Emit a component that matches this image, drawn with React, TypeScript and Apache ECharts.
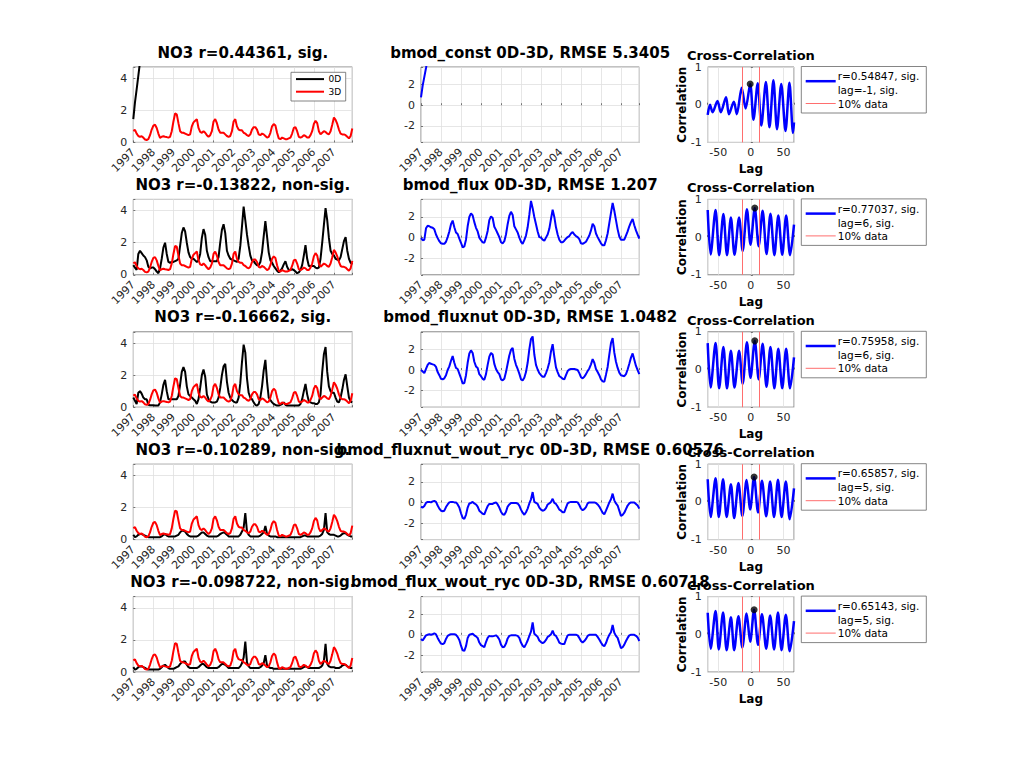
import React, { useEffect, useRef } from "react";
import * as echarts from "echarts";

// ---------- data ----------
const START_YEAR = 1997;
const N_MONTHS = 132;

// 3D model NO3 (red, identical in every row)
const NO3_3D = [
  0.72, 0.78, 0.55, 0.4, 0.35, 0.38, 0.3, 0.18, 0.15, 0.2, 0.45, 0.8,
  1.05, 1.1, 0.9, 0.55, 0.28, 0.35, 0.38, 0.35, 0.33, 0.3, 0.35, 0.7,
  1.3, 1.8, 1.75, 1.2, 0.7, 0.6, 0.6, 0.55, 0.5, 0.45, 0.5, 1.0,
  1.25, 1.35, 1.45, 0.9, 0.65, 0.6, 0.7, 0.6, 0.45, 0.35, 0.45, 0.7,
  1.3, 1.45, 1.2, 0.8, 0.6, 0.6, 0.6, 0.5, 0.4, 0.35, 0.4, 0.7,
  1.3, 1.45, 1.0, 0.8, 0.75, 0.75, 0.6, 0.55, 0.45, 0.4, 0.5, 0.8,
  0.95, 0.95, 0.8, 0.5, 0.45, 0.55, 0.5, 0.4, 0.3, 0.35, 0.6, 1.0,
  1.15, 1.05, 0.6, 0.25, 0.2, 0.3, 0.25, 0.2, 0.2, 0.25, 0.3, 0.55,
  0.9, 0.95, 0.7, 0.35, 0.3, 0.35, 0.45, 0.4, 0.3, 0.3, 0.45, 0.7,
  1.15, 1.35, 1.2, 0.7, 0.5, 0.6, 0.7, 0.65, 0.55, 0.5, 0.7, 1.1,
  1.55, 1.4, 1.15, 0.8, 0.55, 0.5, 0.5, 0.45, 0.35, 0.25, 0.4, 0.87,
];

// 0D model NO3 (black) per run
const NO3_0D_CONST = [1.45, 2.5, 3.3, 4.15, 5.0, 5.9];
const NO3_0D_FLUX = [
  0.6, 0.45, 0.3, 1.3, 1.5, 1.35, 1.2, 1.1, 0.9, 0.5, 0.4, 0.45,
  0.45, 0.35, 0.2, 0.1, 0.4, 1.0, 1.7, 2.0, 1.3, 0.8, 0.75, 0.8,
  0.8, 0.85, 0.9, 1.0, 1.8, 2.6, 2.95, 2.7, 2.0, 1.4, 1.1, 1.0,
  1.0, 0.9, 0.8, 0.9, 1.3, 2.3, 2.85, 2.5, 1.5, 1.1, 0.85, 0.85,
  0.85, 0.85, 0.85, 1.1, 2.0, 2.8, 3.15, 2.6, 1.5, 1.2, 1.0, 0.95,
  0.9, 0.85, 0.8, 1.0, 1.8, 3.0, 4.25, 3.4, 2.5, 1.8, 1.2, 0.9,
  0.85, 0.7, 0.6, 0.6, 0.8, 1.4, 2.4, 3.35, 2.4, 1.4, 0.9, 0.75,
  0.55, 0.4, 0.25, 0.15, 0.25, 0.4, 0.65, 0.85, 0.5, 0.3, 0.3, 0.35,
  0.3, 0.2, 0.1, 0.15, 0.3, 0.6, 1.2, 1.85, 1.0, 0.55, 0.55, 0.55,
  0.55, 0.45, 0.4, 0.45, 1.0, 2.0, 3.1, 4.15, 3.4, 2.3, 1.5, 1.3,
  1.2, 1.0, 0.95, 0.9, 1.1, 1.6, 2.1, 2.35, 1.5, 1.0, 0.75, 0.65,
];
const NO3_0D_FLUXNUT = [
  0.6, 0.4, 0.2, 0.9, 1.0, 0.85, 0.6, 0.5, 0.5, 0.15, 0.12, 0.12,
  0.12, 0.1, 0.1, 0.1, 0.3, 0.8, 1.4, 1.7, 1.0, 0.5, 0.5, 0.5,
  0.5, 0.5, 0.5, 0.7, 1.4, 2.2, 2.5, 2.2, 1.3, 0.8, 0.7, 0.6,
  0.5, 0.4, 0.2, 0.5, 1.2, 2.0, 2.35, 1.9, 0.8, 0.5, 0.35, 0.3,
  0.3, 0.3, 0.35, 0.6, 1.2, 2.0, 2.55, 2.7, 1.6, 0.9, 0.6, 0.45,
  0.35, 0.3, 0.3, 0.6, 1.5, 2.8, 3.9, 3.4, 1.8, 0.9, 0.6, 0.5,
  0.3, 0.15, 0.1, 0.2, 0.6, 1.3, 2.3, 2.95, 1.6, 0.6, 0.45, 0.3,
  0.2, 0.15, 0.1, 0.1, 0.15, 0.2, 0.3, 0.15, 0.1, 0.1, 0.1, 0.1,
  0.1, 0.1, 0.1, 0.1, 0.2, 0.5, 1.0, 1.45, 0.8, 0.35, 0.3, 0.25,
  0.25, 0.2, 0.2, 0.3, 0.8, 2.2, 3.3, 3.75, 2.2, 1.3, 1.0, 0.9,
  0.9, 0.6, 0.35, 0.3, 0.6, 1.1, 1.7, 2.05, 1.3, 0.6, 0.35, 0.3,
];
const NO3_0D_FLUXNUT_WOUT = [
  0.3, 0.15, 0.2, 0.3, 0.35, 0.35, 0.3, 0.25, 0.2, 0.15, 0.15, 0.15,
  0.15, 0.15, 0.15, 0.15, 0.15, 0.2, 0.3, 0.35, 0.25, 0.2, 0.2, 0.2,
  0.2, 0.2, 0.25, 0.3, 0.45, 0.55, 0.55, 0.5, 0.35, 0.25, 0.2, 0.2,
  0.2, 0.2, 0.2, 0.25, 0.35, 0.45, 0.45, 0.35, 0.25, 0.2, 0.2, 0.2,
  0.2, 0.2, 0.2, 0.25, 0.35, 0.4, 0.45, 0.4, 0.3, 0.2, 0.2, 0.2,
  0.2, 0.2, 0.2, 0.2, 0.3, 0.5, 0.75, 1.65, 0.5, 0.3, 0.2, 0.2,
  0.2, 0.2, 0.2, 0.2, 0.25, 0.35, 0.45, 0.85, 0.35, 0.25, 0.2, 0.2,
  0.2, 0.2, 0.15, 0.15, 0.15, 0.15, 0.15, 0.15, 0.15, 0.15, 0.15, 0.15,
  0.15, 0.15, 0.15, 0.15, 0.15, 0.2, 0.25, 0.25, 0.2, 0.2, 0.2, 0.2,
  0.2, 0.2, 0.2, 0.2, 0.25, 0.35, 0.6, 1.65, 0.45, 0.35, 0.3, 0.3,
  0.3, 0.25, 0.2, 0.2, 0.25, 0.35, 0.4, 0.4, 0.3, 0.25, 0.2, 0.2,
];
const NO3_0D_FLUX_WOUT = [
  0.3, 0.15, 0.2, 0.3, 0.35, 0.35, 0.3, 0.25, 0.2, 0.15, 0.15, 0.15,
  0.15, 0.15, 0.15, 0.15, 0.2, 0.3, 0.4, 0.45, 0.35, 0.25, 0.2, 0.2,
  0.2, 0.25, 0.3, 0.35, 0.5, 0.6, 0.65, 0.65, 0.45, 0.3, 0.25, 0.25,
  0.25, 0.25, 0.25, 0.3, 0.4, 0.5, 0.5, 0.4, 0.3, 0.25, 0.25, 0.25,
  0.25, 0.25, 0.25, 0.3, 0.4, 0.5, 0.5, 0.45, 0.35, 0.25, 0.25, 0.25,
  0.25, 0.25, 0.25, 0.25, 0.35, 0.55, 0.9, 1.9, 0.6, 0.35, 0.25, 0.25,
  0.25, 0.25, 0.25, 0.25, 0.3, 0.4, 0.55, 1.05, 0.4, 0.3, 0.25, 0.25,
  0.2, 0.2, 0.2, 0.2, 0.2, 0.2, 0.2, 0.2, 0.2, 0.2, 0.2, 0.2,
  0.2, 0.2, 0.2, 0.2, 0.2, 0.25, 0.3, 0.35, 0.3, 0.25, 0.25, 0.25,
  0.25, 0.25, 0.25, 0.25, 0.3, 0.4, 0.7, 1.75, 0.5, 0.35, 0.3, 0.3,
  0.3, 0.25, 0.25, 0.25, 0.3, 0.4, 0.45, 0.45, 0.35, 0.3, 0.25, 0.25,
];

// 0D-3D differences (blue, middle column)
const DIFF_CONST = [0.75, 1.9, 2.75, 3.6, 4.5, 5.4];
const DIFF_FLUX = [
  -0.05, -0.25, -0.2, 0.9, 1.15, 1.1, 1.0, 0.95, 0.8, 0.3, -0.05, -0.35,
  -0.55, -0.6, -0.6, -0.4, 0.05, 0.6, 1.3, 1.65, 1.0, 0.5, 0.35, -0.1,
  -0.5, -0.95, -0.85, -0.2, 1.1, 2.0, 2.35, 2.15, 1.5, 0.95, 0.6, 0.0,
  -0.25, -0.45, -0.5, 0.0, 0.65, 1.7, 2.05, 1.9, 1.05, 0.75, 0.4, 0.05,
  -0.45, -0.55, -0.35, 0.3, 1.3, 2.1, 2.5, 2.2, 1.1, 0.8, 0.5, 0.0,
  -0.4, -0.6, -0.25, 0.2, 1.0, 2.2, 3.55, 2.85, 2.0, 1.3, 0.6, 0.05,
  0.0, -0.2, -0.3, 0.0, 0.3, 0.85, 1.8, 2.7, 2.0, 1.0, 0.3, -0.2,
  -0.45, -0.45, -0.3, -0.1, 0.05, 0.15, 0.4, 0.55, 0.3, 0.15, 0.05, -0.15,
  -0.55, -0.6, -0.5, -0.4, -0.1, 0.2, 0.7, 1.35, 1.1, 0.4, 0.05, -0.25,
  -0.55, -0.75, -0.75, -0.25, 0.4, 1.4, 2.4, 3.35, 2.6, 1.7, 0.8, 0.1,
  -0.2, -0.2, -0.2, 0.2, 0.6, 1.1, 1.5, 1.8, 1.2, 0.7, 0.3, -0.1,
];
const DIFF_FLUXNUT = [
  0.0, -0.15, -0.3, 0.1, 0.5, 0.7, 0.6, 0.55, 0.5, 0.3, -0.2, -0.5,
  -0.85, -0.9, -0.8, -0.5, 0.0, 0.35, 0.9, 1.35, 0.7, 0.2, 0.1, -0.35,
  -0.8, -1.3, -1.25, -0.5, 0.7, 1.6, 1.9, 1.65, 0.8, 0.35, 0.2, -0.4,
  -0.6, -0.85, -0.95, -0.4, 0.5, 1.3, 1.65, 1.5, 0.6, 0.1, -0.2, -0.4,
  -0.9, -1.0, -0.85, -0.2, 0.6, 1.4, 1.95, 2.15, 1.1, 0.5, 0.1, -0.35,
  -0.9, -1.0, -0.75, -0.2, 0.7, 2.0, 3.0, 3.25, 1.5, 0.5, 0.05, -0.3,
  -0.5, -0.65, -0.65, -0.3, 0.15, 0.75, 1.8, 2.5, 1.3, 0.25, -0.2, -0.6,
  -0.7, -0.85, -0.9, -0.5, -0.1, 0.05, 0.1, 0.1, 0.1, 0.05, 0.0, -0.3,
  -0.7, -0.8, -0.65, -0.4, -0.1, 0.15, 0.55, 1.05, 0.7, 0.1, -0.2, -0.5,
  -0.9, -1.1, -1.15, -0.45, 0.3, 1.5, 2.6, 3.1, 1.7, 0.8, 0.2, -0.25,
  -0.5, -0.55, -0.6, -0.4, 0.05, 0.6, 1.2, 1.6, 1.0, 0.4, 0.0, -0.4,
];
const DIFF_FLUXNUT_WOUT = [
  -0.4, -0.5, -0.35, -0.05, 0.05, 0.05, 0.0, 0.1, 0.15, 0.05, -0.3, -0.6,
  -0.8, -0.85, -0.8, -0.45, -0.2, 0.0, 0.05, 0.05, 0.0, 0.0, -0.2, -0.5,
  -1.05, -1.5, -1.6, -1.2, -0.5, -0.1, -0.05, 0.05, -0.1, -0.2, -0.4, -0.8,
  -0.95, -1.1, -1.15, -0.75, -0.35, -0.15, -0.15, -0.15, -0.05, 0.0, -0.2, -0.5,
  -0.9, -1.15, -1.2, -0.9, -0.4, -0.2, -0.05, -0.05, -0.05, -0.05, -0.1, -0.3,
  -0.7, -1.0, -1.2, -0.95, -0.6, -0.1, 0.3, 1.0, 0.05, -0.05, -0.15, -0.5,
  -0.7, -0.8, -0.75, -0.55, -0.2, -0.1, 0.05, 0.35, -0.05, -0.15, -0.4, -0.7,
  -0.8, -0.95, -0.95, -0.5, -0.1, 0.0, 0.05, 0.05, 0.05, 0.05, 0.0, -0.25,
  -0.6, -0.75, -0.65, -0.45, -0.1, 0.0, 0.0, 0.0, 0.0, -0.05, -0.2, -0.4,
  -0.7, -1.0, -1.15, -0.8, -0.4, 0.0, 0.3, 0.85, 0.2, -0.1, -0.3, -0.8,
  -1.3, -1.2, -1.0, -0.65, -0.3, -0.1, 0.0, 0.0, 0.0, -0.15, -0.3, -0.6,
];
const DIFF_FLUX_WOUT = [
  -0.4, -0.55, -0.3, -0.05, 0.0, 0.05, 0.0, 0.05, 0.15, 0.05, -0.3, -0.6,
  -0.85, -0.9, -0.8, -0.4, -0.1, 0.0, 0.05, 0.05, 0.05, 0.0, -0.2, -0.5,
  -1.05, -1.5, -1.55, -1.1, -0.3, 0.0, 0.05, 0.1, -0.05, -0.15, -0.3, -0.75,
  -1.0, -1.1, -1.2, -0.7, -0.3, -0.1, -0.15, -0.15, -0.1, -0.05, -0.2, -0.45,
  -0.95, -1.2, -1.15, -0.85, -0.35, -0.1, -0.05, -0.05, -0.05, -0.05, -0.1, -0.3,
  -0.75, -1.05, -1.2, -0.9, -0.55, -0.1, 0.3, 1.2, 0.1, -0.05, -0.2, -0.55,
  -0.7, -0.8, -0.7, -0.5, -0.2, -0.1, 0.05, 0.4, 0.0, -0.1, -0.4, -0.75,
  -0.85, -0.9, -0.9, -0.45, -0.05, 0.0, 0.0, 0.0, 0.0, 0.0, -0.05, -0.3,
  -0.6, -0.75, -0.6, -0.4, -0.1, 0.0, 0.0, 0.0, 0.0, 0.0, -0.2, -0.45,
  -0.75, -1.0, -1.1, -0.8, -0.35, 0.0, 0.25, 0.95, 0.2, -0.1, -0.3, -0.8,
  -1.3, -1.2, -0.95, -0.6, -0.3, -0.05, 0.0, 0.0, 0.0, -0.1, -0.25, -0.6,
];

// cross-correlation curves: [lag, r] at the turning points
const XCORR_CONST = [
  [-66, -0.27], [-62.5, 0.0], [-58.5, -0.2], [-51, 0.1], [-46, -0.2], [-38, 0.2],
  [-33.5, -0.25], [-26, 0.08], [-21.5, -0.25], [-14, 0.45], [-8, -0.1], [-1, 0.55],
  [4, -0.4], [10.5, 0.57], [16, -0.55], [23, 0.6], [28.5, -0.6], [34.5, 0.65],
  [40, -0.65], [46.5, 0.55], [53, -0.7], [59, 0.58], [64.5, -0.75], [66, -0.47],
];
const XCORR_FLUX = [
  [-66, 0.72], [-61.5, -0.46], [-54, 0.72], [-48.5, -0.48], [-42, 0.61], [-36.5, -0.48],
  [-30.5, 0.52], [-25, -0.47], [-18, 0.52], [-12.5, -0.37], [-6, 0.74], [-0.5, -0.2],
  [6, 0.77], [12, -0.24], [18, 0.7], [24, -0.45], [30, 0.62], [36, -0.48],
  [42, 0.57], [48, -0.47], [54, 0.57], [60, -0.48], [66, 0.33],
];
const XCORR_FLUXNUT = [
  [-66, 0.7], [-61.5, -0.48], [-54, 0.7], [-48.5, -0.5], [-42, 0.6], [-36.5, -0.5],
  [-30.5, 0.5], [-25, -0.48], [-18, 0.5], [-12.5, -0.38], [-6, 0.72], [-0.5, -0.22],
  [6, 0.76], [12, -0.26], [18, 0.68], [24, -0.46], [30, 0.6], [36, -0.5],
  [42, 0.55], [48, -0.5], [54, 0.55], [60, -0.5], [66, 0.32],
];
const XCORR_FLUXNUT_WOUT = [
  [-66, 0.6], [-61.5, -0.4], [-54, 0.63], [-49, -0.4], [-42.5, 0.6], [-37, -0.4],
  [-30.5, 0.47], [-25.5, -0.43], [-19, 0.5], [-13, -0.37], [-6.5, 0.58], [-1, -0.2],
  [5, 0.66], [11, -0.28], [17, 0.56], [23.5, -0.38], [29.5, 0.54], [35.5, -0.4],
  [41.5, 0.59], [47, -0.4], [53.5, 0.54], [59.5, -0.46], [66, 0.36],
];
const XCORR_FLUX_WOUT = [
  [-66, 0.57], [-61.5, -0.38], [-54, 0.62], [-49, -0.4], [-42.5, 0.58], [-37, -0.42],
  [-30.5, 0.45], [-25.5, -0.42], [-19, 0.48], [-13, -0.35], [-6.5, 0.55], [-1, -0.2],
  [5, 0.65], [11, -0.28], [17, 0.53], [23.5, -0.38], [29.5, 0.5], [35.5, -0.4],
  [41.5, 0.58], [47, -0.42], [53.5, 0.52], [59.5, -0.45], [66, 0.35],
];

const BEST_LAG = [-1, 6, 6, 5, 5];
const BEST_R = [0.54847, 0.77037, 0.75958, 0.65857, 0.65143];
const TEN_PCT_LAG = 13.2;

const TITLES_NO3 = [
  "NO3 r=0.44361, sig.",
  "NO3 r=-0.13822, non-sig.",
  "NO3 r=-0.16662, sig.",
  "NO3 r=-0.10289, non-sig.",
  "NO3 r=-0.098722, non-sig.",
];
const TITLES_DIFF = [
  "bmod_const 0D-3D, RMSE 5.3405",
  "bmod_flux 0D-3D, RMSE 1.207",
  "bmod_fluxnut 0D-3D, RMSE 1.0482",
  "bmod_fluxnut_wout_ryc 0D-3D, RMSE 0.60576",
  "bmod_flux_wout_ryc 0D-3D, RMSE 0.60718",
];
const LEGEND_R = [
  "r=0.54847, sig.",
  "r=0.77037, sig.",
  "r=0.75958, sig.",
  "r=0.65857, sig.",
  "r=0.65143, sig.",
];
const LEGEND_LAG = ["lag=-1, sig.", "lag=6, sig.", "lag=6, sig.", "lag=5, sig.", "lag=5, sig."];
const SERIES_0D = [NO3_0D_CONST, NO3_0D_FLUX, NO3_0D_FLUXNUT, NO3_0D_FLUXNUT_WOUT, NO3_0D_FLUX_WOUT];
const SERIES_DIFF = [DIFF_CONST, DIFF_FLUX, DIFF_FLUXNUT, DIFF_FLUXNUT_WOUT, DIFF_FLUX_WOUT];
const SERIES_XCORR = [XCORR_CONST, XCORR_FLUX, XCORR_FLUXNUT, XCORR_FLUXNUT_WOUT, XCORR_FLUX_WOUT];

// ---------- layout ----------
const FONT = "'DejaVu Sans', 'Liberation Sans', sans-serif";
const ROW_TOP0 = 67;
const ROW_STEP = 132.4;
const PLOT_H = 75.4;
const COL_LEFT = [133.3, 421, 707.7];
const COL_W = [219, 218.3, 86.3];
const AX = "#262626";
const GRIDC = "#dfdfdf";
const PALE_RED = "#ff6e6e";

const rowTop = (r: number) => ROW_TOP0 + ROW_STEP * r;
const monthly = (vals: number[]) => vals.map((v, i) => [START_YEAR + i / 12, v]);

function buildOption() {
  const grid: any[] = [];
  const xAxis: any[] = [];
  const yAxis: any[] = [];
  const series: any[] = [];
  const graphic: any[] = [];

  const baseAxis = {
    axisLine: { show: false },
    axisTick: { show: true, inside: true, length: 2, lineStyle: { color: AX, width: 0.6 } },
    splitLine: { show: true, lineStyle: { color: GRIDC, width: 0.8 } },
  };
  const lbl = { color: AX, fontSize: 11, fontFamily: FONT };

  const text = (t: string, x: number, y: number, size: number, bold: boolean, extra: any = {}) => ({
    type: "text",
    x,
    y,
    z: 100,
    silent: true,
    ...extra,
    style: {
      text: t,
      fill: "#000",
      fontSize: size,
      fontWeight: bold ? "bold" : "normal",
      fontFamily: FONT,
      align: extra.align || "center",
      verticalAlign: "middle",
    },
  });
  const seg = (x1: number, y1: number, x2: number, y2: number, color: string, w: number) => ({
    type: "line",
    z: 101,
    silent: true,
    shape: { x1, y1, x2, y2 },
    style: { stroke: color, lineWidth: w },
  });

  for (let r = 0; r < 5; r++) {
    const top = rowTop(r);
    for (let c = 0; c < 3; c++) {
      const g = r * 3 + c;
      grid.push({
        left: COL_LEFT[c],
        top,
        width: COL_W[c],
        height: PLOT_H,
        show: true,
        borderColor: "#666",
        borderWidth: 0.8,
        backgroundColor: "#fff",
        containLabel: false,
        outerBoundsMode: "none",
      });
      if (c < 2) {
        xAxis.push({
          ...baseAxis,
          type: "value",
          gridIndex: g,
          min: START_YEAR,
          max: START_YEAR + (N_MONTHS - 1) / 12,
          interval: 1,
          axisLabel: {
            ...lbl,
            rotate: 45,
            margin: 8,
            formatter: (v: number) => (Math.abs(v - Math.round(v)) < 1e-6 ? String(Math.round(v)) : ""),
          },
        });
      } else {
        xAxis.push({
          ...baseAxis,
          type: "value",
          gridIndex: g,
          min: -66,
          max: 66,
          splitNumber: 3,
          axisLabel: { ...lbl, margin: 5, formatter: (v: number) => (v % 50 === 0 ? String(v) : "") },
        });
      }
      if (c === 0) {
        yAxis.push({
          ...baseAxis,
          type: "value",
          gridIndex: g,
          min: 0,
          max: 4.7,
          interval: 2,
          axisLabel: { ...lbl, margin: 6, formatter: (v: number) => (v % 2 === 0 ? String(v) : "") },
        });
      } else if (c === 1) {
        yAxis.push({
          ...baseAxis,
          type: "value",
          gridIndex: g,
          min: -3.6,
          max: 3.7,
          splitNumber: 3,
          axisLabel: { ...lbl, margin: 6, formatter: (v: number) => (v % 2 === 0 ? String(v) : "") },
        });
      } else {
        yAxis.push({
          ...baseAxis,
          type: "value",
          gridIndex: g,
          min: -1,
          max: 1,
          interval: 1,
          axisLabel: { ...lbl, margin: 6 },
        });
      }
    }

    const g0 = r * 3;
    series.push({
      type: "line",
      name: "0D",
      xAxisIndex: g0,
      yAxisIndex: g0,
      data: monthly(SERIES_0D[r]),
      symbol: "none",
      lineStyle: { color: "#000", width: 2 },
      itemStyle: { color: "#000" },
      z: 2,
    });
    series.push({
      type: "line",
      name: "3D",
      xAxisIndex: g0,
      yAxisIndex: g0,
      data: monthly(NO3_3D),
      symbol: "none",
      lineStyle: { color: "#ff0000", width: 2 },
      itemStyle: { color: "#ff0000" },
      z: 3,
    });
    series.push({
      type: "line",
      name: "diff" + r,
      xAxisIndex: g0 + 1,
      yAxisIndex: g0 + 1,
      data: monthly(SERIES_DIFF[r]),
      symbol: "none",
      lineStyle: { color: "#0000ff", width: 2 },
      itemStyle: { color: "#0000ff" },
      z: 2,
    });
    series.push({
      type: "line",
      name: LEGEND_R[r],
      xAxisIndex: g0 + 2,
      yAxisIndex: g0 + 2,
      data: SERIES_XCORR[r],
      symbol: "none",
      smooth: 0.3,
      lineStyle: { color: "#0000ff", width: 2.5 },
      itemStyle: { color: "#0000ff" },
      z: 3,
      markLine: {
        silent: true,
        symbol: ["none", "none"],
        label: { show: false },
        lineStyle: { color: PALE_RED, width: 1, type: "solid" },
        emphasis: { disabled: true },
        data: [
          { xAxis: -TEN_PCT_LAG, lineStyle: { color: PALE_RED, width: 1, type: "solid" } },
          { xAxis: TEN_PCT_LAG, lineStyle: { color: PALE_RED, width: 1, type: "solid" } },
        ],
      },
    });
    series.push({
      type: "scatter",
      name: "best" + r,
      xAxisIndex: g0 + 2,
      yAxisIndex: g0 + 2,
      data: [[BEST_LAG[r], BEST_R[r]]],
      symbolSize: 7,
      itemStyle: { color: "#000" },
      z: 5,
    });

    // titles
    graphic.push(text(TITLES_NO3[r], COL_LEFT[0] + COL_W[0] / 2, top - 14.5, 15, true));
    graphic.push(text(TITLES_DIFF[r], COL_LEFT[1] + COL_W[1] / 2, top - 14.5, 15, true));
    graphic.push(text("Cross-Correlation", COL_LEFT[2] + COL_W[2] / 2, top - 11.5, 13, true));
    // axis names of the cross-correlation plot
    graphic.push(text("Correlation", 682, top + PLOT_H / 2, 12, true, { rotation: Math.PI / 2 }));
    graphic.push(text("Lag", COL_LEFT[2] + COL_W[2] / 2, top + PLOT_H + 27, 12, true));

    // legend of the cross-correlation plot
    const lx = 801.3;
    const ly = top - 0.5;
    graphic.push({
      type: "rect",
      z: 99,
      silent: true,
      shape: { x: lx, y: ly, width: 125, height: 46.5 },
      style: { fill: "#fff", stroke: "#666", lineWidth: 0.8 },
    });
    graphic.push(seg(lx + 4.4, ly + 14.7, lx + 34.4, ly + 14.7, "#0000ff", 2.5));
    graphic.push(text(LEGEND_R[r], lx + 36.4, ly + 9.7, 10.5, false, { align: "left" }));
    graphic.push(text(LEGEND_LAG[r], lx + 36.4, ly + 23.7, 10.5, false, { align: "left" }));
    graphic.push(seg(lx + 4.4, ly + 37, lx + 34.4, ly + 37, PALE_RED, 1));
    graphic.push(text("10% data", lx + 36.4, ly + 37, 10.5, false, { align: "left" }));
  }

  // legend of the first NO3 panel
  const bx = 291;
  const by = 72.3;
  graphic.push({
    type: "rect",
    z: 99,
    silent: true,
    shape: { x: bx, y: by, width: 54.7, height: 28.7 },
    style: { fill: "#fff", stroke: "#666", lineWidth: 0.8 },
  });
  graphic.push(seg(bx + 5, by + 6.8, bx + 33, by + 6.8, "#000", 2));
  graphic.push(seg(bx + 5, by + 19.4, bx + 33, by + 19.4, "#ff0000", 2));
  graphic.push(text("0D", bx + 37.5, by + 6.8, 9, false, { align: "left" }));
  graphic.push(text("3D", bx + 37.5, by + 19.4, 9, false, { align: "left" }));

  return {
    animation: false,
    backgroundColor: "#fff",
    textStyle: { fontFamily: FONT },
    grid,
    xAxis,
    yAxis,
    series,
    graphic,
  };
}

export default function App() {
  const ref = useRef<HTMLDivElement>(null);
  useEffect(() => {
    if (!ref.current) return;
    const chart = echarts.init(ref.current, undefined, { renderer: "svg" });
    chart.setOption(buildOption() as any);
    return () => chart.dispose();
  }, []);
  return (
    <div
      ref={ref}
      style={{ position: "absolute", left: 0, top: 0, width: 1024, height: 768, background: "#fff" }}
    />
  );
}
